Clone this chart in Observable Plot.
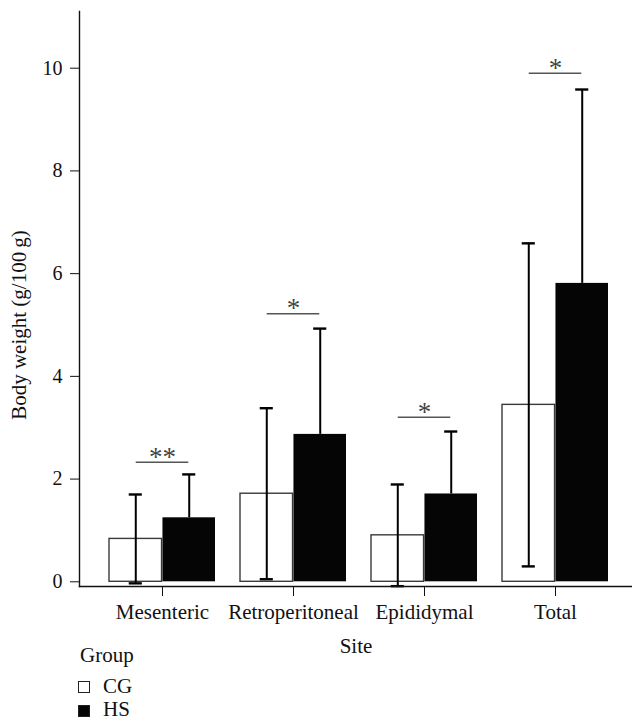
<!DOCTYPE html>
<html>
<head>
<meta charset="utf-8">
<script src="https://cdn.jsdelivr.net/npm/d3@7"></script>
<script src="https://cdn.jsdelivr.net/npm/@observablehq/plot@0.6"></script>
<style>
  html, body { margin: 0; padding: 0; background: #fff; }
  #wrap { position: relative; width: 632px; height: 721px; font-family: "Liberation Serif", serif; color: #111; }
  .lg { position: absolute; font-size: 21px; line-height: 18px; white-space: nowrap; }
  .sw { position: absolute; width: 10px; height: 10px; border: 1.2px solid #222; }
</style>
</head>
<body>
<div id="wrap"></div>
<script>
// ---- data ----
const sites = ["Mesenteric", "Retroperitoneal", "Epididymal", "Total"];
const groups = ["CG", "HS"];
const cgMean = [0.835, 1.715, 0.905, 3.445];
const cgSD   = [0.865, 1.665, 0.99, 3.145];
const hsMean = [1.246, 2.87, 1.71, 5.81];
const hsSD   = [0.845, 2.06, 1.216, 3.775];
const sigLevel = [2.33, 5.22, 3.205, 9.90];
const sigLabel = ["**", "*", "*", "*"];
const yTicks = [0, 2, 4, 6, 8, 10];
const yDomain = [-0.0915, 11.104];
const yLabel = "Body weight (g/100\u2009g)";
const xLabel = "Site";

const rows = sites.map((s, i) => ({
  site: s, cg: cgMean[i], cgSD: cgSD[i], hs: hsMean[i], hsSD: hsSD[i],
  sig: sigLevel[i], lab: sigLabel[i]
}));

const W = 632, H = 660, ML = 79, MR = 0, MT = 11, MB = 74;
const PI = 0.19, PO = 0.19, AL = 0.563;
const bw = d3.scaleBand().domain(sites).range([ML, W - MR])
  .paddingInner(PI).paddingOuter(PO).align(AL).bandwidth();
const cap = 14;

const chart = Plot.plot({
  width: W, height: H,
  marginLeft: ML, marginRight: MR, marginTop: MT, marginBottom: MB,
  style: { fontFamily: "Liberation Serif, serif", fontSize: "20px", color: "#111", background: "#fff" },
  x: { type: "band", domain: sites, paddingInner: PI, paddingOuter: PO, align: AL },
  y: { domain: yDomain },
  marks: [
    // bars
    Plot.barY(rows, { x: "site", y: "cg", fill: "white", stroke: "#3a3a3a", strokeWidth: 1.4, insetRight: bw / 2 }),
    Plot.barY(rows, { x: "site", y: "hs", fill: "#050505", insetLeft: bw / 2 }),
    // CG error bars
    Plot.ruleX(rows, { x: "site", y1: d => d.cg - d.cgSD, y2: d => d.cg + d.cgSD, dx: -bw / 4, stroke: "#000", strokeWidth: 2 }),
    Plot.tickY(rows, { x: "site", y: d => d.cg + d.cgSD, insetLeft: bw / 4 - cap / 2, insetRight: 3 * bw / 4 - cap / 2, stroke: "#000", strokeWidth: 2.4 }),
    Plot.tickY(rows, { x: "site", y: d => d.cg - d.cgSD, insetLeft: bw / 4 - cap / 2, insetRight: 3 * bw / 4 - cap / 2, stroke: "#000", strokeWidth: 2.4 }),
    // HS error bars (upper)
    Plot.ruleX(rows, { x: "site", y1: "hs", y2: d => d.hs + d.hsSD, dx: bw / 4, stroke: "#000", strokeWidth: 2 }),
    Plot.tickY(rows, { x: "site", y: d => d.hs + d.hsSD, insetLeft: 3 * bw / 4 - cap / 2, insetRight: bw / 4 - cap / 2, stroke: "#000", strokeWidth: 2.4 }),
    // significance
    Plot.tickY(rows, { x: "site", y: "sig", insetLeft: bw / 4, insetRight: bw / 4, stroke: "#555", strokeWidth: 1.5 }),
    Plot.text(rows, { x: "site", y: "sig", text: "lab", dy: -5, fontSize: 27, fill: "#444", lineAnchor: "middle" }),
    // axes
    Plot.frame({ anchor: "left", stroke: "#111", strokeWidth: 1.4 }),
    Plot.frame({ anchor: "bottom", stroke: "#111", strokeWidth: 1.4 }),
    Plot.axisY({ ticks: yTicks, tickSize: 9, tickPadding: 8, fontSize: 20, label: null, stroke: "#111" }),
    Plot.axisX({ tickSize: 10, tickPadding: 8, fontSize: 21, label: xLabel, labelAnchor: "center", labelOffset: 66, stroke: "#111" }),
    Plot.text([yLabel], { frameAnchor: "left", y: () => d3.mean(d3.extent(yTicks)), text: d => d, rotate: -90, dx: -60, textAnchor: "middle", lineAnchor: "middle", fontSize: 21, fill: "#111" })
  ]
});

const wrap = document.getElementById("wrap");
wrap.appendChild(chart);

// legend (HTML, below the SVG)
const legend = document.createElement("div");
legend.innerHTML = `
  <div class="lg" style="left:80px; top:646px;">Group</div>
  <div class="sw" style="left:78px; top:681px; background:#fff;"></div>
  <div class="lg" style="left:103px; top:677px;">${groups[0]}</div>
  <div class="sw" style="left:78px; top:705px; background:#050505;"></div>
  <div class="lg" style="left:103px; top:700px;">${groups[1]}</div>`;
wrap.appendChild(legend);
</script>
</body>
</html>
